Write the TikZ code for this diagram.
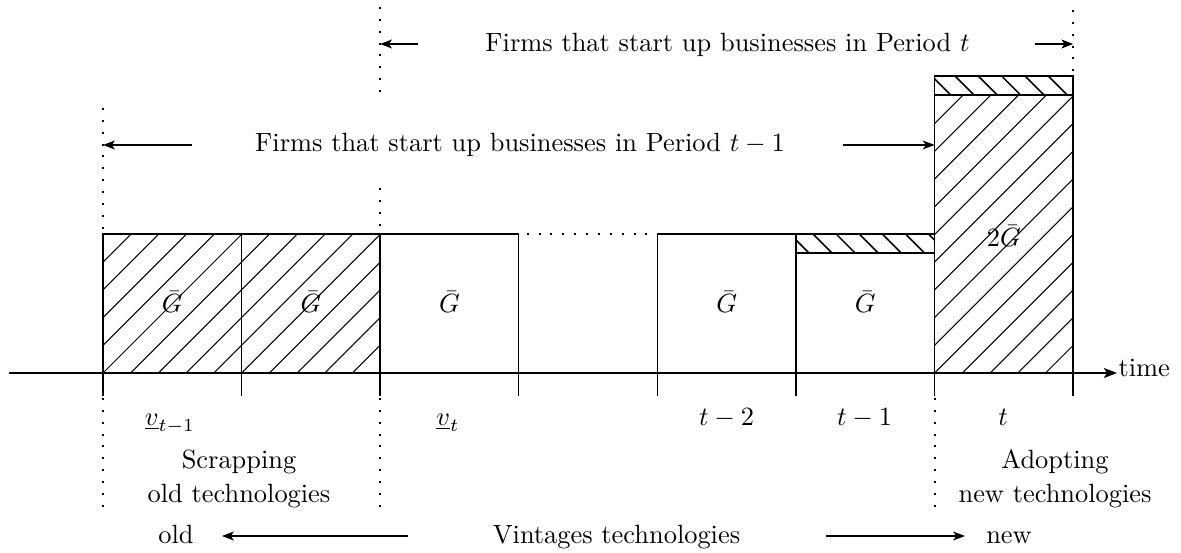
\documentclass[tikz,border=0pt]{standalone}
\usetikzlibrary{arrows.meta}
\tikzset{
  frame/.style={line width=0.55pt},
  hatchne/.style={line width=0.4pt},
  hatchnw/.style={line width=0.6pt},
  guide/.style={line width=0.75pt, dash pattern=on 0.75pt off 3.75pt},
  spanarrow/.style={line width=0.5pt, -{Stealth[length=4.5pt,width=3.4pt,inset=1.2pt]}},
  axisline/.style={line width=0.5pt, -{Stealth[length=5pt,width=3.8pt,inset=1.2pt]}},
  lbl/.style={inner sep=0pt, anchor=base},
  twoline/.style={inner sep=0pt, align=center},
}
\begin{document}
\begin{tikzpicture}[x=0.379pt,y=-0.379pt]
\useasboundingbox (0,0) rectangle (1181,553);
\def\Xa{103}\def\Xb{241.6}\def\Xc{380.1}\def\Xd{518.7}
\def\Xe{657.3}\def\Xf{796}\def\Xg{934.6}\def\Xh{1073.2}

% hatching of the two scrapped boxes
\begin{scope}
  \clip (\Xa,234) rectangle (\Xc,373);
  \foreach \k in {-6,...,10} \draw[hatchne] (\Xa+\k*27.72,373) -- ++(200,-200);
\end{scope}
% hatching of the new box
\begin{scope}
  \clip (\Xg,95) rectangle (\Xh,373);
  \foreach \k in {-11,...,5} \draw[hatchne] (\Xg+\k*27.72,373) -- ++(300,-300);
\end{scope}
% strip on box t-1
\begin{scope}
  \clip (\Xf,234) rectangle (\Xg,253);
  \foreach \k in {-1,...,6} \draw[hatchnw] (813+\k*23.1,234) -- ++(30,30);
\end{scope}
% strip on box t
\begin{scope}
  \clip (\Xg,76) rectangle (\Xh,95);
  \foreach \k in {-1,...,6} \draw[hatchnw] (955+\k*23.3,76) -- ++(30,30);
\end{scope}

% frames
\draw[frame] (\Xa,396) -- (\Xa,234) -- (\Xd,234) -- (\Xd,396);
\draw[frame] (\Xb,234) -- (\Xb,396);
\draw[frame] (\Xc,234) -- (\Xc,396);
\draw[frame] (\Xe,396) -- (\Xe,234) -- (\Xg,234);
\draw[frame] (\Xf,234) -- (\Xf,396);
\draw[frame] (\Xf,253) -- (\Xg,253);
\draw[frame] (\Xg,396) -- (\Xg,76) -- (\Xh,76) -- (\Xh,396);
\draw[frame] (\Xg,95) -- (\Xh,95);
\draw[guide] (\Xd+8,234) -- (\Xe-2,234);

% axis
\coordinate (axstart) at (9,373);
\coordinate (axend) at (1117,373);
\draw[axisline] (axstart) -- (axend);
\node[lbl, anchor=base west] (time) at (1118,376) {time};

% dotted guides
\draw[guide] (\Xa,108) -- (\Xa,232);
\draw[guide] (\Xa,398) -- (\Xa,510);
\draw[guide] (\Xc,7) -- (\Xc,94);
\draw[guide] (\Xc,188) -- (\Xc,232);
\draw[guide] (\Xc,398) -- (\Xc,514);
\draw[guide] (\Xg,398) -- (\Xg,514);
\draw[guide] (\Xh,10) -- (\Xh,75);

% top texts and span arrows
\node[lbl] (topText) at (727.5,52) {Firms that start up businesses in Period $t$};
\coordinate (ta1) at (418,44); \coordinate (ta1e) at (\Xc,44);
\coordinate (ta2) at (1035,44); \coordinate (ta2e) at (\Xh,44);
\draw[spanarrow] (ta1) -- (ta1e);
\draw[spanarrow] (ta2) -- (ta2e);

\node[lbl] (midText) at (520,152) {Firms that start up businesses in Period $t-1$};
\coordinate (ma1) at (192,145); \coordinate (ma1e) at (\Xa,145);
\coordinate (ma2) at (843,145); \coordinate (ma2e) at (\Xg,145);
\draw[spanarrow] (ma1) -- (ma1e);
\draw[spanarrow] (ma2) -- (ma2e);

% box labels
\node[lbl] (g1) at (172.3,313) {$\bar{G}$};
\node[lbl] (g2) at (310.9,313) {$\bar{G}$};
\node[lbl] (g3) at (449.4,313) {$\bar{G}$};
\node[lbl] (g5) at (726.7,313) {$\bar{G}$};
\node[lbl] (g6) at (865.3,313) {$\bar{G}$};
\node[lbl] (g7) at (1003.9,247) {$2\bar{G}$};

% period labels
\node[lbl] (v1) at (170,425) {$\underline{v}_{t-1}$};
\node[lbl] (v2) at (448,425) {$\underline{v}_{t}$};
\node[lbl] (p2) at (726.5,425) {$t-2$};
\node[lbl] (p1) at (864.5,425) {$t-1$};
\node[lbl] (p0) at (1003,425) {$t$};

\node[twoline] (scrap) at (239,479) {Scrapping\\[0.9pt]old technologies};
\node[twoline] (adopt) at (1055,479) {Adopting\\[0.9pt]new technologies};

% bottom row
\node[lbl] (old) at (176,543) {old};
\node[lbl] (vint) at (616.5,543) {Vintages technologies};
\node[lbl] (new) at (1009,543) {new};
\coordinate (oa) at (408,536); \coordinate (oae) at (222,536);
\coordinate (na) at (826,536); \coordinate (nae) at (965,536);
\draw[spanarrow] (oa) -- (oae);
\draw[spanarrow] (na) -- (nae);
\end{tikzpicture}
\end{document}
